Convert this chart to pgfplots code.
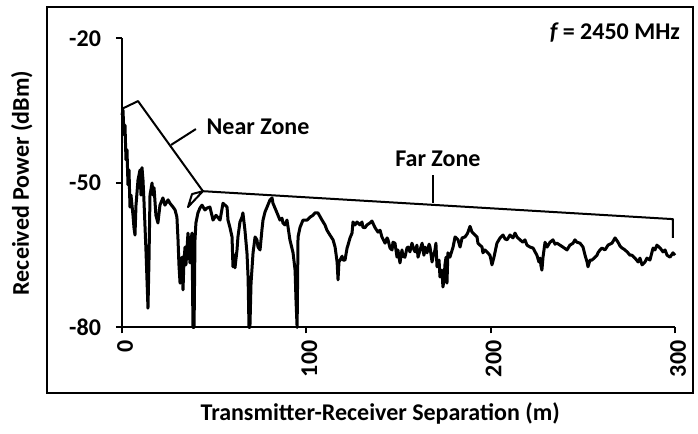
\documentclass[border=0pt]{standalone}
\usepackage{fontspec}
\setmainfont{Carlito}
\usepackage{pgfplots}
\pgfplotsset{compat=1.18}
\begin{document}
\begin{tikzpicture}[font=\fontsize{12}{14}\selectfont\bfseries]
\begin{axis}[
  scale only axis, width=276.5pt, height=144.5pt,
  xmin=0, xmax=300, ymin=-80, ymax=-20,
  axis x line*=bottom, axis y line*=left,
  axis line style={line width=1pt,-},
  xtick={0,100,200,300}, xticklabels={0,100,200,300},
  ytick={-80,-50,-20}, yticklabels={-80,-50,-20},
  tick align=outside, major tick length=3pt,
  tick style={line width=1pt, black},
  xticklabel style={rotate=90, anchor=east, yshift=-1.5pt},
  yticklabel style={xshift=-4pt},
  xlabel={Transmitter-Receiver Separation (m)},
  ylabel={Received Power (dBm)},
  every axis x label/.style={at={(axis description cs:0.467,-0.296)}, anchor=center},
  every axis y label/.style={at={(axis description cs:-0.181,0.5)}, rotate=90, anchor=center},
  clip=false,
]
\addplot[black, line width=1.5pt, line join=round] coordinates {
(0,-35.9)(0.54,-34.85)(1.09,-40.0)(1.63,-38.0)(2.17,-45.2)(2.71,-43.1)(3.26,-50.4)(3.80,-47.3)
(4.34,-55.0)(4.88,-52.5)(5.43,-54.6)(5.97,-56.7)(6.51,-59.3)(7.05,-60.8)(7.60,-54.6)(8.68,-49.4)
(9.77,-47.3)(10.3,-52.5)(10.85,-46.8)(11.4,-49.4)(11.9,-53.5)(13.0,-63.9)(14.1,-76.0)(14.65,-66.0)
(15.2,-52.5)(16.3,-50.0)(16.8,-52.5)(17.4,-51.0)(18.4,-56.7)(19.5,-58.3)(20.6,-54.6)(22.2,-53.1)
(23.3,-54.6)(25.0,-53.5)(26.0,-54.2)(27.7,-55.0)(28.8,-55.6)(29.8,-57.1)(30.4,-61.8)(30.9,-67.0)
(31.5,-70.8)(32.0,-66.0)(32.6,-65.4)(33.1,-72.2)(33.6,-66.4)(34.2,-63.3)(34.7,-67.0)(35.8,-60.4)
(36.3,-63.9)(36.9,-66.6)(37.4,-61.8)(38.0,-60.4)(38.5,-80)(39.1,-80)(39.6,-61.8)(40.1,-58.3)
(41.2,-56.2)(42.3,-55.2)(43.4,-54.6)(45.0,-55.6)(46.1,-55.2)(47.7,-55.0)(49.4,-57.7)(51.0,-56.7)
(53.2,-57.7)(54.8,-54.2)(55.9,-54.6)(57.0,-55.0)(57.5,-57.7)(58.6,-59.3)(59.7,-61.2)(60.2,-67.4)
(60.8,-64.9)(61.3,-67.6)(62.4,-63.9)(62.9,-61.2)(64.0,-58.1)(65.1,-57.1)(65.6,-56.2)(66.7,-59.8)
(67.8,-64.5)(68.4,-69.5)(68.9,-80)(69.4,-80)(70.0,-70.8)(71.1,-64.5)(72.2,-61.2)(73.2,-61.8)
(73.8,-63.3)(74.9,-63.9)(75.9,-59.8)(76.5,-57.7)(77.6,-56.0)(78.7,-55.0)(80.3,-53.5)(81.4,-53.1)
(81.9,-54.2)(83.0,-55.2)(84.1,-56.2)(85.7,-57.7)(86.8,-57.3)(87.3,-58.3)(88.4,-58.7)(89.5,-57.7)
(90.1,-59.2)(91.1,-61.8)(92.8,-64.5)(93.9,-68.1)(94.4,-74.3)(95.0,-80)(95.5,-61.2)(96.6,-59.2)
(98.2,-57.7)(100.4,-57.7)(102.0,-57.1)(103.6,-56.7)(104.7,-56.2)(106.3,-56.2)(108.5,-57.7)(110.1,-58.7)
(111.2,-59.8)(112.8,-60.8)(114.5,-61.8)(115.6,-63.3)(116.7,-66.4)(117.2,-70.1)(117.7,-66.4)(118.3,-66.0)
(119.4,-65.2)(119.9,-66.0)(121.0,-66.0)(122.1,-63.5)(122.6,-62.9)(123.7,-61.4)(124.8,-60.4)(125.3,-58.1)
(126.4,-58.7)(127.5,-58.1)(129.1,-58.7)(130.2,-58.1)(130.7,-59.2)(131.8,-59.3)(132.9,-58.7)(134.5,-58.3)
(135.6,-57.9)(137.3,-59.3)(138.9,-60.2)(140.0,-59.8)(141.0,-61.2)(142.7,-62.5)(143.8,-61.4)(144.3,-61.8)
(145.4,-63.5)(146.5,-63.9)(147.0,-62.3)(148.1,-62.5)(149.2,-65.4)(149.7,-63.9)(150.8,-66.6)(151.9,-63.9)
(152.4,-65.2)(153.5,-65.4)(154.6,-63.5)(155.2,-63.3)(156.2,-64.3)(157.3,-62.5)(158.4,-63.9)(159.0,-64.3)
(160.0,-62.9)(160.6,-65.4)(161.7,-63.9)(162.8,-62.5)(163.8,-65.0)(164.4,-63.3)(165.5,-64.5)(166.6,-62.7)
(167.1,-63.3)(168.2,-66.4)(168.7,-65.4)(169.8,-63.9)(170.3,-62.5)(170.9,-67.4)(172.0,-66.0)(172.5,-69.5)
(173.6,-68.1)(174.1,-71.6)(174.7,-70.1)(175.2,-67.0)(175.8,-65.4)(176.3,-70.8)(176.8,-64.5)(177.9,-65.4)
(179.6,-63.3)(180.7,-61.2)(182.3,-61.8)(183.4,-63.3)(184.5,-61.4)(186.1,-61.2)(187.2,-60.6)(187.7,-60.2)
(188.8,-59.0)(189.9,-60.2)(190.4,-60.4)(191.5,-60.8)(192.6,-61.2)(193.1,-62.5)(194.2,-62.9)(195.3,-63.3)
(195.8,-64.5)(196.9,-63.9)(198.0,-64.3)(199.6,-65.0)(200.2,-66.0)(200.7,-67.0)(201.8,-65.4)(203.4,-62.5)
(205.1,-61.4)(206.7,-60.8)(207.8,-61.6)(208.9,-61.8)(210.5,-60.8)(212.1,-61.4)(213.2,-60.4)(214.3,-61.2)
(215.9,-61.8)(217.5,-62.3)(218.6,-61.8)(219.7,-62.9)(221.3,-63.3)(223.0,-63.5)(224.1,-64.3)(225.1,-65.0)
(226.2,-66.4)(226.8,-65.6)(227.3,-67.2)(227.8,-68.1)(228.4,-65.4)(229.5,-62.3)(230.6,-63.3)(232.2,-62.3)
(233.8,-61.8)(234.9,-62.7)(236.0,-62.5)(237.6,-62.9)(239.2,-63.3)(241.4,-63.9)(243.0,-62.9)(244.7,-62.5)
(245.7,-61.8)(246.8,-62.3)(248.5,-62.5)(250.1,-63.3)(251.2,-65.0)(252.3,-66.4)(252.8,-67.4)(253.9,-66.0)
(255.0,-66.0)(256.6,-65.4)(257.7,-65.0)(258.2,-64.5)(259.3,-63.9)(260.4,-63.5)(262.0,-63.9)(263.7,-62.9)
(264.7,-62.7)(265.8,-62.5)(267.5,-61.4)(269.1,-62.3)(270.2,-63.1)(271.3,-63.5)(272.9,-63.9)(274.5,-64.5)
(275.6,-65.0)(276.7,-65.0)(278.3,-65.6)(280.0,-66.4)(281.0,-65.6)(282.1,-67.0)(283.7,-66.4)(284.8,-65.6)
(286.4,-66.0)(288.1,-63.5)(289.1,-63.9)(290.2,-62.9)(291.9,-63.5)(293.5,-64.3)(294.6,-63.9)(295.7,-65.0)
(297.3,-65.4)(298.9,-64.5)(300,-65.0)
};
% near zone bracket
\addplot[black, line width=1pt, line join=round, forget plot] coordinates {(0,-34.6)(8.7,-33.0)(43.9,-51.7)};
\addplot[black, line width=1pt, line join=round, forget plot] coordinates {(43.9,-51.7)(38.0,-52.3)(35.8,-55.0)(43.9,-51.7)};
\addplot[black, line width=1pt, forget plot] coordinates {(26.6,-42.1)(40.1,-38.8)};
% far zone bracket
\addplot[black, line width=1pt, line join=round, forget plot] coordinates {(43.9,-51.7)(298.9,-57.5)(298.9,-61.4)};
\addplot[black, line width=1pt, forget plot] coordinates {(168.7,-54.2)(168.7,-48.3)};
\node at (axis cs:73.8,-38.4) {Near Zone};
\node at (axis cs:171.4,-45.0) {Far Zone};
\node[anchor=east] at (axis description cs:1.0217,1.019) {\textit{f}\,= 2450 MHz};
\draw[line width=1pt] (axis description cs:-0.1356,1.109) rectangle (axis description cs:1.0325,-0.2266);
\coordinate (bl) at (axis description cs:-0.2206,-0.3685);
\coordinate (tr) at (axis description cs:1.0416,1.1332);
\end{axis}
\pgfresetboundingbox
\path[use as bounding box] (bl) rectangle (tr);
\end{tikzpicture}
\end{document}
